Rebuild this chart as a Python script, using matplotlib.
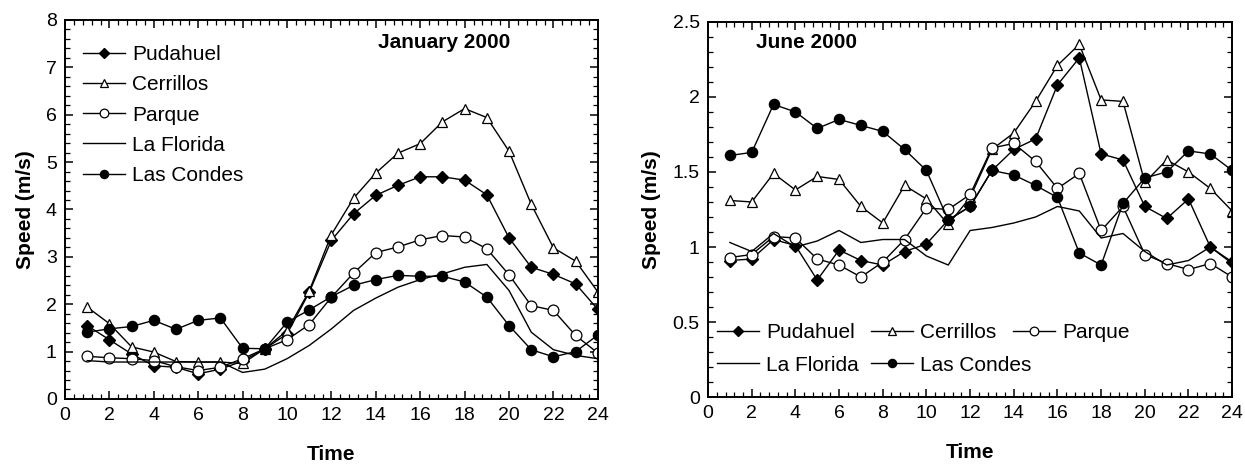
import numpy as np
from matplotlib import pyplot as plt
from matplotlib.ticker import MultipleLocator, AutoMinorLocator

plt.rcParams['font.family'] = ['Liberation Sans', 'DejaVu Sans']

hours = np.arange(1, 25)

# January 2000
jan_pudahuel = [1.55, 1.25, 0.95, 0.70, 0.67, 0.53, 0.63, 0.80, 1.06, 1.37, 2.25, 3.35,
                3.91, 4.30, 4.51, 4.69, 4.69, 4.62, 4.31, 3.40, 2.78, 2.63, 2.43, 1.89]
jan_cerrillos = [1.94, 1.59, 1.10, 0.99, 0.79, 0.78, 0.78, 0.75, 1.06, 1.44, 2.28, 3.47,
                 4.24, 4.77, 5.19, 5.39, 5.85, 6.13, 5.94, 5.23, 4.11, 3.19, 2.91, 2.26]
jan_parque = [0.90, 0.87, 0.85, 0.81, 0.68, 0.60, 0.67, 0.85, 1.06, 1.25, 1.57, 2.15,
              2.66, 3.09, 3.21, 3.36, 3.45, 3.42, 3.17, 2.62, 1.97, 1.87, 1.34, 0.97]
jan_laflorida = [0.81, 0.78, 0.78, 0.78, 0.78, 0.78, 0.78, 0.56, 0.63, 0.85, 1.13, 1.48,
                 1.87, 2.13, 2.36, 2.52, 2.64, 2.78, 2.84, 2.29, 1.41, 1.04, 0.92, 0.85]
jan_lascondes = [1.41, 1.48, 1.53, 1.66, 1.47, 1.66, 1.71, 1.07, 1.06, 1.62, 1.88, 2.16,
                 2.40, 2.52, 2.61, 2.59, 2.59, 2.47, 2.15, 1.55, 1.04, 0.89, 1.00, 1.35]

# June 2000
jun_pudahuel = [0.91, 0.92, 1.05, 1.01, 0.78, 0.98, 0.91, 0.88, 0.97, 1.02, 1.18, 1.27,
                1.51, 1.65, 1.72, 2.08, 2.26, 1.62, 1.58, 1.27, 1.19, 1.32, 1.00, 0.90]
jun_cerrillos = [1.31, 1.30, 1.49, 1.38, 1.47, 1.45, 1.27, 1.16, 1.41, 1.32, 1.15, 1.33,
                 1.65, 1.76, 1.97, 2.21, 2.35, 1.98, 1.97, 1.43, 1.58, 1.50, 1.39, 1.24]
jun_parque = [0.93, 0.95, 1.07, 1.06, 0.92, 0.88, 0.80, 0.90, 1.05, 1.26, 1.25, 1.35,
              1.66, 1.69, 1.57, 1.39, 1.49, 1.11, 1.27, 0.95, 0.89, 0.85, 0.89, 0.80]
jun_laflorida = [1.03, 0.97, 1.09, 1.00, 1.04, 1.11, 1.03, 1.05, 1.05, 0.94, 0.88, 1.11,
                 1.13, 1.16, 1.20, 1.27, 1.24, 1.06, 1.09, 0.97, 0.88, 0.91, 1.00, 0.89]
jun_lascondes = [1.61, 1.63, 1.95, 1.90, 1.79, 1.85, 1.81, 1.77, 1.65, 1.51, 1.18, 1.27,
                 1.51, 1.48, 1.41, 1.33, 0.96, 0.88, 1.29, 1.46, 1.50, 1.64, 1.62, 1.51]

lw = 1.0
FS = 14


def draw(ax, pud, cer, par, laf, lco):
    lines = {}
    lines['Pudahuel'], = ax.plot(hours, pud, '-', color='k', lw=lw, marker='D', ms=6,
                                 mfc='k', mec='k', label='Pudahuel')
    lines['Cerrillos'], = ax.plot(hours, cer, '-', color='k', lw=lw, marker='^', ms=7,
                                  mfc='white', mec='k', mew=0.9, label='Cerrillos')
    lines['Parque'], = ax.plot(hours, par, '-', color='k', lw=lw, marker='o', ms=7.8,
                               mfc='white', mec='k', mew=0.9, label='Parque')
    lines['La Florida'], = ax.plot(hours, laf, '-', color='k', lw=lw, label='La Florida')
    lines['Las Condes'], = ax.plot(hours, lco, '-', color='k', lw=lw, marker='o', ms=7.3,
                                   mfc='k', mec='k', label='Las Condes')
    ax.set_xlim(0, 24)
    ax.xaxis.set_major_locator(MultipleLocator(2))
    ax.xaxis.set_minor_locator(AutoMinorLocator(5))
    ax.yaxis.set_minor_locator(AutoMinorLocator(5))
    ax.tick_params(which='both', direction='in', top=True, right=True, labelsize=FS, pad=6)
    ax.tick_params(which='major', length=6, width=1.1)
    ax.tick_params(which='minor', length=3.5, width=0.9)
    for s in ax.spines.values():
        s.set_linewidth(1.4)
    ax.set_xlabel('Time', fontsize=15, fontweight='bold', labelpad=15)
    ax.set_ylabel('Speed (m/s)', fontsize=15, fontweight='bold', labelpad=8)
    return lines


fig = plt.figure(figsize=(12.45, 4.65), dpi=100)
ax1 = fig.add_axes([0.0522, 0.142, 0.428, 0.815])
ax2 = fig.add_axes([0.5687, 0.146, 0.421, 0.807])

leg_kw = dict(frameon=False, fontsize=15, handlelength=2.0, handletextpad=0.35,
              borderpad=0, borderaxespad=0, markerscale=0.8)

l1 = draw(ax1, jan_pudahuel, jan_cerrillos, jan_parque, jan_laflorida, jan_lascondes)
ax1.set_ylim(0, 8)
ax1.yaxis.set_major_locator(MultipleLocator(1))
ax1.text(0.711, 0.94, 'January 2000', transform=ax1.transAxes, fontsize=15,
         fontweight='bold', ha='center', va='center')
order1 = ['Pudahuel', 'Cerrillos', 'Parque', 'La Florida', 'Las Condes']
ax1.legend([l1[k] for k in order1], order1, loc='upper left',
           bbox_to_anchor=(0.034, 0.934), labelspacing=0.54, **leg_kw)

l2 = draw(ax2, jun_pudahuel, jun_cerrillos, jun_parque, jun_laflorida, jun_lascondes)
ax2.set_ylim(0, 2.5)
ax2.yaxis.set_major_locator(MultipleLocator(0.5))
ax2.yaxis.set_major_formatter(plt.FuncFormatter(lambda v, p: '%g' % v))
ax2.text(0.187, 0.944, 'June 2000', transform=ax2.transAxes, fontsize=15,
         fontweight='bold', ha='center', va='center')
row1 = ['Pudahuel', 'Cerrillos', 'Parque']
row2 = ['La Florida', 'Las Condes']
leg_a = ax2.legend([l2[k] for k in row1], row1, loc='center left', ncol=3,
                   bbox_to_anchor=(0.017, 0.171), columnspacing=0.8, **leg_kw)
ax2.add_artist(leg_a)
ax2.legend([l2[k] for k in row2], row2, loc='center left', ncol=2,
           bbox_to_anchor=(0.017, 0.085), columnspacing=0.6, **leg_kw)

fig.savefig('out.png', dpi=100)
